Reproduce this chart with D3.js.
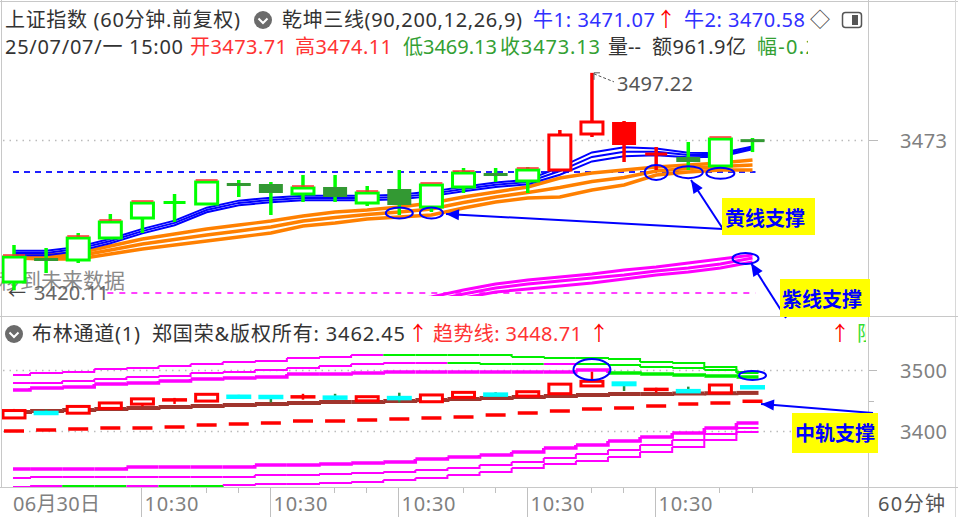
<!DOCTYPE html>
<html><head><meta charset="utf-8">
<script src="https://cdn.jsdelivr.net/npm/d3@7"></script>
<style>
html,body{margin:0;padding:0;background:#fff;}
svg{display:block;}
text{font-family:"Noto Sans","Noto Sans CJK SC",sans-serif;}
</style></head><body>
<svg id="c" width="958" height="517"></svg>
<script>
// ---------------- DATA ----------------
const dates = ["06-30 10:30","06-30 11:30","06-30 14:00","06-30 15:00",
  "07-01 10:30","07-01 11:30","07-01 14:00","07-01 15:00",
  "07-02 10:30","07-02 11:30","07-02 14:00","07-02 15:00",
  "07-03 10:30","07-03 11:30","07-03 14:00","07-03 15:00",
  "07-04 10:30","07-04 11:30","07-04 14:00","07-04 15:00",
  "07-07 10:30","07-07 11:30","07-07 14:00","07-07 15:00"];
const open  = [3423.05,3431.56,3430.85,3438.65,3445.74,3450.71,3450.71,3458.16,3457.80,3454.26,3456.74,3451.06,3456.03,3449.64,3456.74,3461.70,3458.87,3462.77,3475.53,3479.79,3468.44,3467.38,3464.18,3473.71];
const high  = [3436.17,3435.11,3440.43,3447.16,3451.42,3454.26,3458.87,3459.22,3458.51,3460.99,3460.99,3457.09,3462.77,3457.80,3463.48,3463.48,3463.83,3476.95,3497.22,3480.14,3470.92,3472.70,3474.11,3474.11];
const low   = [3420.11,3426.24,3429.79,3438.30,3440.43,3444.33,3450.35,3453.19,3446.81,3451.42,3451.42,3450.00,3446.81,3447.87,3454.61,3458.51,3454.61,3462.41,3474.47,3465.60,3462.77,3462.77,3463.12,3469.13];
const close = [3431.91,3430.85,3438.65,3444.33,3451.06,3451.42,3458.51,3457.09,3454.61,3456.38,3453.19,3454.61,3450.35,3457.45,3461.70,3461.35,3462.77,3475.18,3479.79,3471.63,3468.60,3465.60,3473.76,3473.13];
const signal = [0,0,0,0,0,0,0,0,0,0,0,0,0,0,0,0,0,1,1,1,1,0,0,0]; // 1 = red zone

// 乾坤三线 blue (牛1, 牛2, third)
const bull1 = [3434.1,3434.1,3435.5,3438.4,3441.9,3444.8,3449.4,3451.9,3452.9,3453.6,3453.6,3453.6,3454.0,3455.1,3456.8,3458.3,3459.3,3463.7,3469.0,3470.8,3470.4,3468.9,3468.7,3471.07];
const bull2 = [3433.3,3433.3,3434.8,3437.6,3441.1,3444.0,3448.6,3451.1,3452.1,3452.8,3452.8,3452.8,3453.2,3454.3,3456.0,3457.5,3458.5,3462.4,3467.4,3469.2,3469.2,3468.1,3468.1,3470.58];
const bull3 = [3432.5,3432.5,3434.0,3436.8,3440.3,3443.2,3447.8,3450.3,3451.3,3452.0,3452.0,3452.0,3452.4,3453.5,3455.2,3456.7,3457.7,3461.1,3465.8,3467.6,3468.0,3467.3,3467.5,3470.1];
// yellow (orange) lines
const yellowTop = [3432.62,3432.62,3433.33,3435.82,3438.30,3440.07,3441.84,3443.26,3444.68,3446.45,3447.87,3448.58,3449.64,3451.06,3453.19,3454.96,3456.74,3459.93,3461.70,3462.77,3463.83,3464.54,3465.25,3466.31];
const yellowMid = [3432.09,3431.92,3432.27,3434.40,3436.53,3438.12,3439.72,3441.14,3442.56,3444.68,3445.92,3446.99,3447.87,3448.94,3451.24,3453.19,3454.79,3456.56,3458.69,3460.11,3462.41,3463.30,3464.01,3464.54];
const yellowBot = [3431.56,3431.21,3431.21,3432.98,3434.75,3436.17,3437.59,3439.01,3440.43,3442.91,3443.97,3445.39,3446.10,3446.81,3449.29,3451.42,3452.84,3453.19,3455.67,3457.45,3460.99,3462.06,3462.77,3462.77];
// purple lines
const purpleTop = [null,null,null,null,null,null,null,null,null,null,null,null,3415.96,3417.73,3420.21,3422.34,3423.76,3424.82,3425.89,3427.30,3428.37,3429.79,3431.21,3432.62];
const purpleMid = [null,null,null,null,null,null,null,null,null,null,null,null,3414.54,3416.31,3418.79,3420.92,3422.34,3423.40,3424.47,3425.53,3426.95,3428.01,3429.43,3431.56];
const purpleBot = [null,null,null,null,null,null,null,null,null,null,null,null,3413.12,3414.89,3417.38,3419.50,3420.57,3421.63,3422.70,3424.11,3425.53,3426.59,3428.01,3430.14];
const blueLevel = 3462.06, purpleLevel = 3419.15;

// 布林通道 lower panel
const bollUp1 = [3491.80,3495.08,3496.72,3501.64,3503.28,3506.56,3509.84,3513.11,3514.75,3519.67,3521.31,3524.59,3524.59,3524.59,3524.59,3524.59,3521.31,3519.67,3519.67,3518.03,3513.11,3511.48,3504.92,3496.72];
const bollUp2 = [3478.69,3478.69,3481.97,3485.25,3488.52,3490.16,3495.08,3496.72,3500.00,3503.28,3506.56,3509.84,3511.48,3511.48,3511.48,3509.84,3509.84,3509.84,3509.84,3508.20,3504.92,3503.28,3500.00,3495.08];
const bollUp3 = [3467.21,3470.49,3472.13,3477.05,3478.69,3481.97,3485.25,3486.89,3488.52,3493.44,3493.44,3495.08,3496.72,3496.72,3496.72,3496.72,3496.72,3496.72,3500.00,3495.08,3493.44,3491.80,3490.16,3488.52];
const bollMid = [3431.15,3432.79,3434.43,3436.07,3437.70,3439.34,3440.98,3442.62,3444.26,3445.90,3447.54,3447.54,3449.18,3450.82,3452.46,3454.10,3455.74,3457.38,3459.02,3460.66,3460.66,3461.50,3462.00,3462.45];
const trendLine = [3400.00,3401.64,3403.28,3404.92,3404.92,3406.56,3409.84,3411.48,3413.11,3416.39,3416.39,3418.03,3419.67,3421.31,3422.95,3426.23,3429.51,3432.79,3436.07,3437.70,3440.98,3444.26,3445.90,3448.71];
const bollLow3 = [3337.70,3337.70,3337.70,3337.70,3340.98,3340.98,3340.98,3340.98,3344.26,3344.26,3345.90,3347.54,3349.18,3354.10,3357.38,3360.66,3365.57,3372.13,3377.05,3383.61,3390.16,3396.72,3404.92,3413.11];
const bollLow2 = [3322.95,3324.59,3324.59,3324.59,3324.59,3324.59,3324.59,3324.59,3327.87,3327.87,3329.51,3331.15,3332.79,3336.07,3339.34,3344.26,3349.18,3355.74,3362.30,3368.85,3377.05,3385.25,3395.08,3404.92];
const bollLow1 = [3308.20,3309.84,3309.84,3309.84,3309.84,3309.84,3309.84,3311.48,3313.11,3313.11,3314.75,3316.39,3319.67,3322.95,3327.87,3332.79,3339.34,3345.90,3350.82,3357.38,3365.57,3373.77,3385.25,3398.36];
const up1Green  = [0,0,0,0,0,0,0,0,0,0,0,0,1,1,1,1,1,1,1,1,1,1,1,1];
const up2Green  = [0,0,0,0,0,0,0,0,0,0,0,0,0,0,1,1,1,0,1,1,1,1,1,1];
const up3Green  = [0,0,0,0,0,0,0,0,0,0,0,0,0,0,0,0,0,0,0,1,1,1,1,1];
const low1Green = [0,0,1,1,0,1,1,0,0,0,0,0,0,0,0,0,0,0,0,0,0,0,0,0];

const axisIdx = [0,4,8,12,16,20];
const axisLabels = ["06月30日","10:30","10:30","10:30","10:30","10:30"];
const mainTicks = [3473];
const lowerTicks = [3500,3400];
const lowerMinor = [3450];

// ---------------- SCALES ----------------
const svg = d3.select("#c");
const x = d3.scalePoint().domain(dates).range([14, 752.5]);
const yM = d3.scaleLinear().domain([3420, 3500]).range([290.6, 65]);
const yL = d3.scaleLinear().domain([3400, 3500]).range([431, 370]);
const X = i => x(dates[i]);

svg.append("rect").attr("width",958).attr("height",517).attr("fill","#fff");
const defs = svg.append("defs");
defs.append("clipPath").attr("id","cm").append("rect").attr("x",2).attr("y",60).attr("width",864).attr("height",236);
defs.append("clipPath").attr("id","cl").append("rect").attr("x",2).attr("y",350).attr("width",864).attr("height",137);
defs.append("clipPath").attr("id","ch").append("rect").attr("x",0).attr("y",30).attr("width",808).attr("height",30);
defs.append("clipPath").attr("id","cz").append("rect").attr("x",0).attr("y",320).attr("width",866).attr("height",30);

// helper: text with fitted length
function txt(parent, xx, yy, s, col, fs, len){
  const t = parent.append("text").attr("x",xx).attr("y",yy).attr("font-size",fs||20).attr("fill",col).text(s);
  if(len) t.attr("textLength",len).attr("lengthAdjust","spacing");
  return t;
}

// frames
const frame = svg.append("g").attr("stroke","#c8c8c8").attr("stroke-width",1);
frame.append("line").attr("x1",0).attr("x2",958).attr("y1",1.5).attr("y2",1.5);
frame.append("line").attr("x1",1.5).attr("x2",1.5).attr("y1",0).attr("y2",487);
frame.append("line").attr("x1",868.5).attr("x2",868.5).attr("y1",0).attr("y2",517);
frame.append("line").attr("x1",955.5).attr("x2",955.5).attr("y1",0).attr("y2",517).attr("stroke","#d8d8d8");
frame.append("line").attr("x1",0).attr("x2",958).attr("y1",316.5).attr("y2",316.5);
frame.append("line").attr("x1",0).attr("x2",958).attr("y1",487.5).attr("y2",487.5);

// ---------------- MAIN PANEL ----------------
mainTicks.forEach(t=>{
  const yy = Math.round(yM(t))-0.5;
  svg.append("line").attr("x1",3).attr("x2",866).attr("y1",yy).attr("y2",yy)
    .attr("stroke","#bbb").attr("stroke-width",1.5).attr("stroke-dasharray","1.5,5");
  svg.append("line").attr("x1",869).attr("x2",878).attr("y1",yy).attr("y2",yy).attr("stroke","#bbb");
  txt(svg,900,yy+7,String(t),"#808080",20,47);
});

// background texts (under candles)
svg.append("text").attr("x",-1).attr("y",288).attr("font-size",21).attr("fill","#8a8a8a").text("移到未来数据");
txt(svg,34,300,d3.min(low).toFixed(2),"#666",20,75);
svg.append("text").attr("x",8).attr("y",299).attr("font-size",18).attr("fill","#444").text("←");

const gm = svg.append("g").attr("clip-path","url(#cm)");
gm.append("line").attr("x1",X(0)-1).attr("x2",X(23)+3).attr("y1",yM(blueLevel)).attr("y2",yM(blueLevel))
  .attr("stroke","#2020ff").attr("stroke-width",2).attr("stroke-dasharray","6,5");
gm.append("line").attr("x1",X(3)-3).attr("x2",X(23)+3).attr("y1",yM(purpleLevel)).attr("y2",yM(purpleLevel))
  .attr("stroke","#ff40ff").attr("stroke-width",2).attr("stroke-dasharray","6,6");

const lineM = d3.line().defined(d=>d!=null).x((d,i)=>X(i)).y(d=>yM(d));
[purpleTop,purpleMid,purpleBot].forEach(arr=>{
  gm.append("path").attr("d",lineM(arr)).attr("fill","none").attr("stroke","#ff00ff").attr("stroke-width",3);
});
[yellowTop,yellowMid,yellowBot].forEach(arr=>{
  gm.append("path").attr("d",lineM(arr)).attr("fill","none").attr("stroke","#ff8000").attr("stroke-width",3.4);
});
[bull1,bull2,bull3].forEach(arr=>{
  gm.append("path").attr("d",lineM(arr)).attr("fill","none").attr("stroke","#0000ff").attr("stroke-width",2);
});

// candles main
const bw = 22;
dates.forEach((d,i)=>{
  const cx = X(i), up = close[i] >= open[i];
  const red = signal[i]===1;
  const wickC = red ? "#ff0000" : "#00ff00";
  gm.append("line").attr("x1",cx).attr("x2",cx).attr("y1",yM(high[i])).attr("y2",yM(low[i]))
    .attr("stroke",wickC).attr("stroke-width",3.5);
  const yt = yM(Math.max(open[i],close[i])), yb = yM(Math.min(open[i],close[i]));
  let h = Math.max(yb-yt, 3);
  if(up){
    if(yb-yt < 3){
      gm.append("rect").attr("x",cx-bw/2).attr("y",yt-1).attr("width",bw).attr("height",3)
        .attr("fill", red ? "#ff0000" : "#00ff00");
    } else {
      gm.append("rect").attr("x",cx-bw/2).attr("y",yt).attr("width",bw).attr("height",h)
        .attr("fill","#fff").attr("stroke", red ? "#ff0000" : "#00ff00").attr("stroke-width",3);
      if(!red) gm.append("line").attr("x1",cx-bw/2).attr("x2",cx+bw/2).attr("y1",yt-2).attr("y2",yt-2)
        .attr("stroke","#ff3030").attr("stroke-width",1.5);
    }
  } else {
    gm.append("rect").attr("x",cx-bw/2-1).attr("y",yt).attr("width",bw+2).attr("height",h)
      .attr("fill", red ? "#ff0000" : "#339933");
  }
});

// high label
const hiIdx = high.indexOf(d3.max(high));
const hx = X(hiIdx), hy = yM(high[hiIdx]);
svg.append("path").attr("d",`M${hx+2},${hy+1} L${hx+22},${hy+9}`)
  .attr("stroke","#555").attr("stroke-width",1).attr("stroke-dasharray","3,2").attr("fill","none");
svg.append("path").attr("d",`M${hx+2},${hy+7} L${hx+2},${hy} L${hx+8},${hy}`)
  .attr("stroke","#555").attr("stroke-width",1).attr("fill","none");
txt(svg,617,hy+18,d3.max(high).toFixed(2),"#555",20,76);

// ---------------- HEADER ----------------
txt(svg,5,27,"上证指数 (60分钟.前复权)","#333",20,235);
svg.append("circle").attr("cx",263).attr("cy",20).attr("r",9).attr("fill","#6b6b6b");
svg.append("path").attr("d","M258.5,18.5 L263,23 L267.5,18.5").attr("stroke","#fff").attr("stroke-width",2).attr("fill","none");
txt(svg,282,27,"乾坤三线(90,200,12,26,9)","#333",20,240);
txt(svg,533,27,"牛1: "+bull1[23].toFixed(2),"#3030ff",20,122);
txt(svg,656,27,"↑","#ff0000",20);
txt(svg,684,27,"牛2: "+bull2[23].toFixed(2),"#3030ff",20,121);
txt(svg,810,27,"◇","#444",20);
svg.append("rect").attr("x",842.5).attr("y",12.5).attr("width",19).attr("height",15).attr("rx",3).attr("fill","none").attr("stroke","#555").attr("stroke-width",1.5);
svg.append("rect").attr("x",852).attr("y",15).attr("width",6).attr("height",10).attr("fill","#555");
const hdr = svg.append("g").attr("clip-path","url(#ch)");
txt(hdr,5,54,"25/07/07/一 15:00","#333",20,178);
txt(hdr,190,54,"开"+open[23].toFixed(2),"#ff3333",20,97);
txt(hdr,295,54,"高"+high[23].toFixed(2),"#ff3333",20,97);
txt(hdr,403,54,"低"+low[23].toFixed(2),"#33a033",20,94);
txt(hdr,500,54,"收"+close[23].toFixed(2),"#33a033",20,100);
txt(hdr,608,54,"量--","#333",20);
txt(hdr,652,54,"额961.9亿","#333",20,94);
txt(hdr,757,54,"幅-0.2","#33a033",20,60);

// ---------------- LOWER PANEL ----------------
lowerTicks.forEach(t=>{
  const yy = Math.round(yL(t))+0.5;
  svg.append("line").attr("x1",3).attr("x2",866).attr("y1",yy).attr("y2",yy)
    .attr("stroke","#bbb").attr("stroke-width",1.5).attr("stroke-dasharray","1.5,5");
  svg.append("line").attr("x1",869).attr("x2",877).attr("y1",yy).attr("y2",yy).attr("stroke","#bbb");
  txt(svg,900,yy+7,String(t),"#808080",20,47);
});
lowerMinor.forEach(t=>{
  const yy = Math.round(yL(t))+0.5;
  svg.append("line").attr("x1",869).attr("x2",874).attr("y1",yy).attr("y2",yy).attr("stroke","#bbb");
});

svg.append("circle").attr("cx",14).attr("cy",334).attr("r",9).attr("fill","#6b6b6b");
svg.append("path").attr("d","M9.5,332.5 L14,337 L18.5,332.5").attr("stroke","#fff").attr("stroke-width",2).attr("fill","none");
txt(svg,32,341,"布林通道(1)","#333",20,108);
txt(svg,152,341,"郑国荣&版权所有: "+bollMid[23].toFixed(2),"#333",20,253);
txt(svg,408,341,"↑","#ff0000",20);
txt(svg,433,341,"趋势线: "+trendLine[23].toFixed(2),"#ff3333",20,149);
txt(svg,589,341,"↑","#ff0000",20);
txt(svg,830,341,"↑","#ff0000",20);
svg.append("g").attr("clip-path","url(#cz)").append("text").attr("x",857).attr("y",341).attr("font-size",20).attr("fill","#33dd33").text("阻");

const gl = svg.append("g").attr("clip-path","url(#cl)");
const hw = 16;
function stepLine(arr, flags, w, colA, colB){
  arr.forEach((v,i)=>{
    const x0 = i===0 ? X(0)-1 : X(i)-hw;
    const x1 = i===arr.length-1 ? X(i)+6 : X(i)+hw;
    const pts = [[x0,yL(v)],[x1,yL(v)]];
    if(i<arr.length-1) pts.push([x1,yL(arr[i+1])]);
    gl.append("path").attr("d",d3.line()(pts)).attr("fill","none")
      .attr("stroke", flags && flags[i] ? colB : colA).attr("stroke-width",w);
  });
}
stepLine(bollUp1, up1Green, 2, "#ff00ff", "#00ee00");
stepLine(bollUp2, up2Green, 2, "#ff00ff", "#00ee00");
stepLine(bollUp3, up3Green, 3.5, "#ff00ff", "#00ee00");
stepLine(bollLow3, null, 3.5, "#ff00ff", "#00ee00");
stepLine(bollLow2, null, 2, "#ff00ff", "#00ee00");
stepLine(bollLow1, low1Green, 2, "#ff00ff", "#00ee00");
stepLine(bollMid, null, 4, "#a0352d", "#a0352d");
trendLine.forEach((v,i)=>{
  gl.append("line").attr("x1",X(i)-10).attr("x2",X(i)+10).attr("y1",yL(v)).attr("y2",yL(v))
    .attr("stroke","#ff0000").attr("stroke-width",3.5);
});
// lower candles
const lw = 25;
dates.forEach((d,i)=>{
  const cx = X(i), up = close[i] >= open[i];
  const yt = yL(Math.max(open[i],close[i])), yb = yL(Math.min(open[i],close[i]));
  gl.append("line").attr("x1",cx).attr("x2",cx).attr("y1",yL(high[i])).attr("y2",yL(low[i]))
    .attr("stroke", up ? "#ff0000" : "#2e8b3e").attr("stroke-width",2.5);
  if(up){
    if(yb-yt < 2){
      gl.append("rect").attr("x",cx-lw/2).attr("y",yt-1.5).attr("width",lw).attr("height",3.5).attr("fill","#ff0000");
    } else {
      gl.append("rect").attr("x",cx-lw/2+1.5).attr("y",yt-1).attr("width",lw-3).attr("height",yb-yt+2)
        .attr("fill","#fff").attr("stroke","#ff0000").attr("stroke-width",3);
    }
  } else {
    const h = Math.max(yb-yt,4.5);
    gl.append("rect").attr("x",cx-lw/2).attr("y",yt-1).attr("width",lw).attr("height",h).attr("fill","#00ffff");
  }
});

// ---------------- BOTTOM AXIS ----------------
axisIdx.forEach((idx,k)=>{
  const xx = Math.round(X(idx))-0.5;
  if(k>0){
    svg.append("line").attr("x1",xx).attr("x2",xx).attr("y1",488).attr("y2",517).attr("stroke","#c0c0c0");
    [idx+2, idx+3].forEach(j=>{ if(j<dates.length){
      const tx = Math.round(X(j))-0.5;
      svg.append("line").attr("x1",tx).attr("x2",tx).attr("y1",488).attr("y2",493).attr("stroke","#c0c0c0");
    }});
  }
  txt(svg, k===0 ? 13 : xx+3, 511, axisLabels[k], "#808080", 20, k===0 ? 87 : 54);
});
txt(svg,878,511,"60分钟","#555",20,67);

// ---------------- ANNOTATIONS ----------------
const ann = svg.append("g");
function ell(cx,cy,rx,ry){ ann.append("ellipse").attr("cx",cx).attr("cy",cy).attr("rx",rx).attr("ry",ry)
  .attr("fill","none").attr("stroke","#0000ff").attr("stroke-width",2); }
ell(X(12),yM(3447.5),13.5,5.5);
ell(X(13),yM(3447.5),11.5,5.5);
ell(X(20),yM(3461.9),11.5,7.5);
ell(X(21),yM(3462.0),14.5,6);
ell(X(22),yM(3461.6),14,5.5);
ell(X(23)-7,yM(3431.4),13,5.5);
ell(X(18),yL(3500.8),18.5,10.5);
ell(X(23),yL(3491.0),13.5,4.5);

function arrow(x1,y1,x2,y2){
  ann.append("line").attr("x1",x1).attr("y1",y1).attr("x2",x2).attr("y2",y2).attr("stroke","#0000ff").attr("stroke-width",2);
  const a = Math.atan2(y2-y1,x2-x1), L=13, Wd=5.5;
  const bx = x2 - L*Math.cos(a), by = y2 - L*Math.sin(a);
  const p = [[x2,y2],[bx+Wd*Math.sin(a),by-Wd*Math.cos(a)],[bx-Wd*Math.sin(a),by+Wd*Math.cos(a)]];
  ann.append("path").attr("d","M"+p.map(q=>q.join(",")).join("L")+"Z").attr("fill","#0000ff");
}
function box(x0,y0,w,h,s,tx,ty){
  ann.append("rect").attr("x",x0).attr("y",y0).attr("width",w).attr("height",h).attr("fill","#ffff00");
  ann.append("text").attr("x",tx).attr("y",ty).attr("font-size",20).attr("font-weight","bold").attr("fill","#0000ff").text(s);
}
arrow(723,229,446,214);
arrow(723,229,691,180);
arrow(786,318,751,263);
arrow(873,413,761,404);
box(722,198,93,37,"黄线支撑",725,226);
box(780,279,90,38,"紫线支撑",782,307);
box(792,413,86,40,"中轨支撑",795,441);
</script>
</body></html>
